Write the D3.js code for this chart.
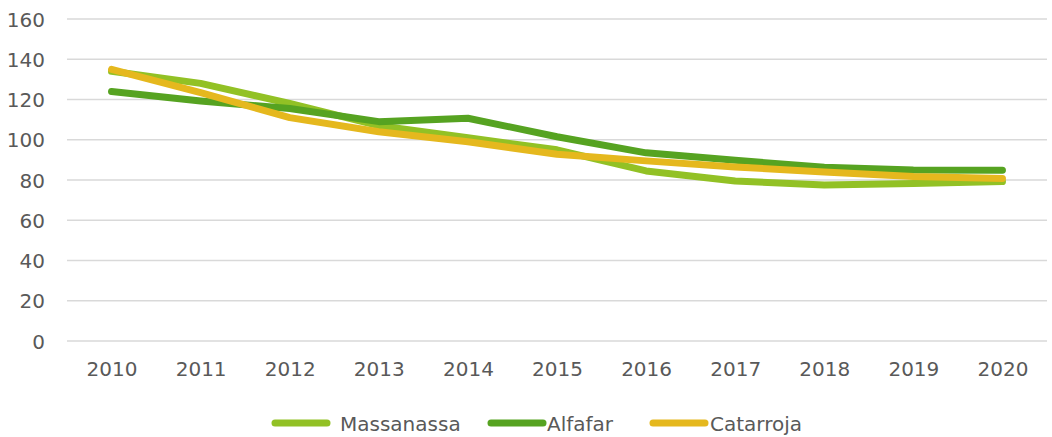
<!DOCTYPE html>
<html>
  <head>
    <meta charset="utf-8">
    <title></title>
    <script type="text/javascript" src="https://d3js.org/d3.v7.min.js"></script>
    <style media="screen">
      body { margin: 0; background: #fff; }
      svg text { font-family: "DejaVu Sans", sans-serif; font-size: 20px; fill: #595959; }
    </style>
  </head>
  <body>

    <div class="vis"></div>

    <script type="text/javascript">

      var years = ["2010", "2011", "2012", "2013", "2014", "2015", "2016", "2017", "2018", "2019", "2020"];
      var massanassa = [134, 128, 118, 107, 101, 95, 84.5, 79.5, 77.5, 78.3, 79.2];
      var alfafar = [124, 119.3, 115.5, 109, 110.7, 101.5, 93.5, 89.8, 86.3, 85, 84.8];
      var catarroja = [135, 123.4, 111, 104, 99, 92.8, 89.5, 86.5, 84, 81.7, 80.8];
      var yTicks = [0, 20, 40, 60, 80, 100, 120, 140, 160];

      var seriesNames = ["Massanassa", "Alfafar", "Catarroja"];
      var seriesValues = [massanassa, alfafar, catarroja];
      var colors = ["#92c125", "#56a321", "#e5b81e"];

      var w = 1052;
      var h = 437;

      var xscale = d3.scalePoint()
        .domain(years)
        .range([67, 1047])
        .padding(0.5);

      var yscale = d3.scaleLinear()
        .domain([0, 160])
        .range([341, 19]);

      var svg = d3.select('.vis')
        .append('svg')
        .attr('width', w)
        .attr('height', h);

      // gridlines
      svg.append('g')
        .selectAll('line')
        .data(yTicks)
        .enter()
        .append('line')
        .attr('x1', 67)
        .attr('x2', 1047)
        .attr('y1', function(d){ return yscale(d); })
        .attr('y2', function(d){ return yscale(d); })
        .attr('stroke', '#d9d9d9')
        .attr('stroke-width', 1.5);

      var yAxis = d3.axisLeft(yscale)
        .tickValues(yTicks)
        .tickSize(0)
        .tickPadding(22);

      var gy = svg.append('g')
        .attr('class', 'y axis')
        .attr('transform', 'translate(67,0)')
        .call(yAxis);
      gy.select('.domain').remove();
      gy.selectAll('text').attr('fill', '#595959').style('font-size', '20px').attr('dy', '0.35em');

      var xAxis = d3.axisBottom(xscale)
        .tickSize(0)
        .tickPadding(21);

      var gx = svg.append('g')
        .attr('class', 'x axis')
        .attr('transform', 'translate(0,341)')
        .call(xAxis);
      gx.select('.domain').remove();
      gx.selectAll('text').attr('fill', '#595959').style('font-size', '20px');

      var line = d3.line()
        .x(function(d, i){ return xscale(years[i]); })
        .y(function(d){ return yscale(d); });

      svg.selectAll('path.series')
        .data(seriesValues)
        .enter()
        .append('path')
        .attr('class', 'series')
        .attr('d', line)
        .attr('fill', 'none')
        .attr('stroke', function(d, i){ return colors[i]; })
        .attr('stroke-width', 7)
        .attr('stroke-linecap', 'round')
        .attr('stroke-linejoin', 'round');

      // legend
      var legendX = [275, 491, 653];
      var textX = [340, 547, 710];
      var lg = svg.append('g');
      seriesNames.forEach(function(name, i) {
        lg.append('line')
          .attr('x1', legendX[i])
          .attr('x2', legendX[i] + 52)
          .attr('y1', 423)
          .attr('y2', 423)
          .attr('stroke', colors[i])
          .attr('stroke-width', 7)
          .attr('stroke-linecap', 'round');
        lg.append('text')
          .attr('x', textX[i])
          .attr('y', 431)
          .text(name);
      });

    </script>

  </body>
</html>
